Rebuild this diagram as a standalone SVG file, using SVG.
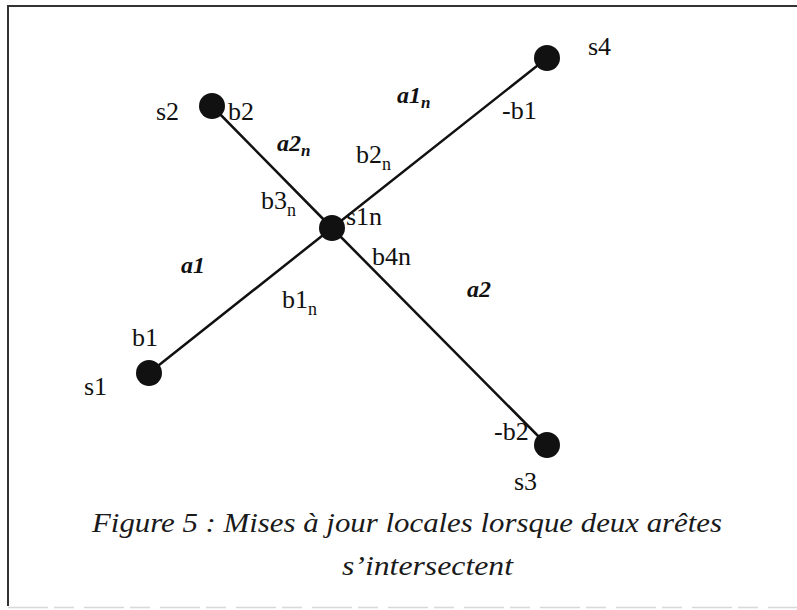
<svg xmlns="http://www.w3.org/2000/svg" width="797" height="610" viewBox="0 0 797 610">
  <style>
    .lbl { font-family: "Liberation Serif", "Times New Roman", serif; font-size: 26px; fill: #111; }
    .bi { font-family: "Liberation Serif", "Times New Roman", serif; font-size: 24px; font-weight: bold; font-style: italic; fill: #111; }
    .sub { font-size: 18px; }
    .subbi { font-size: 17px; }
    .cap { font-family: "Liberation Serif", "Times New Roman", serif; font-size: 28px; font-style: italic; fill: #1a1a1a; }
    .edge { stroke: #111; stroke-width: 2.5; fill: none; stroke-linecap: round; }
    .node { fill: #111; }
  </style>
  <rect x="0" y="0" width="797" height="610" fill="#ffffff"/>
  <g id="frame">
    <line x1="7" y1="6" x2="797" y2="6" stroke="#333" stroke-width="2"/>
    <line x1="8" y1="5" x2="8" y2="606" stroke="#333" stroke-width="2"/>
    <line x1="8" y1="607.5" x2="797" y2="607.5" stroke="#d8d8d8" stroke-width="1.5" stroke-dasharray="40 6 20 10"/>
  </g>
  <g id="connectors">
    <line class="edge" x1="149" y1="373" x2="332" y2="228"/>
    <line class="edge" x1="332" y1="228" x2="547" y2="58"/>
    <line class="edge" x1="212" y1="106" x2="332" y2="228"/>
    <line class="edge" x1="332" y1="228" x2="547" y2="445"/>
  </g>
  <g id="node-s4">
    <circle class="node" cx="547" cy="58" r="13"/>
    <text class="lbl" x="588" y="55">s4</text>
  </g>
  <g id="node-s2">
    <circle class="node" cx="212" cy="106" r="13"/>
    <text class="lbl" x="156" y="120">s2</text>
  </g>
  <g id="node-s1n">
    <circle class="node" cx="332" cy="228" r="13"/>
    <text class="lbl" x="346" y="225">s1n</text>
  </g>
  <g id="node-s1">
    <circle class="node" cx="149" cy="373" r="13"/>
    <text class="lbl" x="84" y="395">s1</text>
  </g>
  <g id="node-s3">
    <circle class="node" cx="547" cy="445" r="13"/>
    <text class="lbl" x="514" y="490">s3</text>
  </g>
  <g id="labels">
    <text class="lbl" x="228" y="120">b2</text>
    <text class="bi" x="397" y="103">a1<tspan class="subbi" dy="5">n</tspan></text>
    <text class="lbl" x="502" y="119">-b1</text>
    <text class="bi" x="277" y="151">a2<tspan class="subbi" dy="5">n</tspan></text>
    <text class="lbl" x="356" y="163">b2<tspan class="sub" dy="7">n</tspan></text>
    <text class="lbl" x="261" y="209">b3<tspan class="sub" dy="7">n</tspan></text>
    <text class="lbl" x="372" y="265">b4n</text>
    <text class="bi" x="181" y="273">a1</text>
    <text class="bi" x="467" y="297">a2</text>
    <text class="lbl" x="282" y="308">b1<tspan class="sub" dy="7">n</tspan></text>
    <text class="lbl" x="132" y="346">b1</text>
    <text class="lbl" x="494" y="440">-b2</text>
  </g>
  <g id="caption">
    <text class="cap" x="92" y="532" textLength="630" lengthAdjust="spacingAndGlyphs">Figure 5 : Mises à jour locales lorsque deux arêtes</text>
    <text class="cap" x="342" y="575" textLength="171" lengthAdjust="spacingAndGlyphs">s’intersectent</text>
  </g>
</svg>
